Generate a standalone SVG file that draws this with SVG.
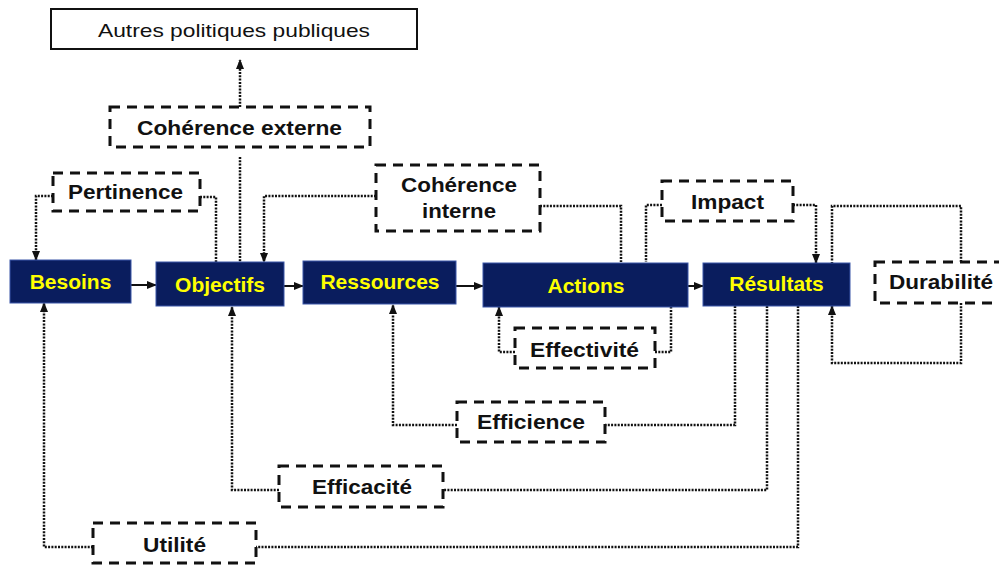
<svg xmlns="http://www.w3.org/2000/svg" width="999" height="565" viewBox="0 0 999 565">
<style>
.blue{fill:#0a1d5e;stroke:#3a57a8;stroke-width:1}
.bl{font-family:"Liberation Sans",Arial,sans-serif;font-weight:bold;font-size:21px;fill:#ffff00;text-anchor:middle}
.dbox{fill:#fff;stroke:#111;stroke-width:3;stroke-dasharray:10 7}
.dl{font-family:"Liberation Sans",Arial,sans-serif;font-weight:bold;font-size:21px;fill:#111}
.dot{fill:none;stroke:#111;stroke-width:2.5;stroke-dasharray:2 1.3}
.solid{fill:none;stroke:#111;stroke-width:2}
</style>
<defs>
<marker id="ah" markerUnits="userSpaceOnUse" markerWidth="10" markerHeight="10" viewBox="0 0 10 10" refX="9" refY="5" orient="auto">
<path d="M0,1 L10,5 L0,9 Z" fill="#111"/>
</marker>
</defs>
<rect width="999" height="565" fill="#fff"/>

<g id="connectors">
<path class="dot" d="M240,107 V60" marker-end="url(#ah)"/>
<path class="dot" d="M240,157 V262"/>
<path class="dot" d="M53,196 H36 V260" marker-end="url(#ah)"/>
<path class="dot" d="M200,197 H216 V262"/>
<path class="dot" d="M376,196 H264 V262" marker-end="url(#ah)"/>
<path class="dot" d="M540,206 H621 V262"/>
<path class="dot" d="M662,205 H646 V262"/>
<path class="dot" d="M793,205 H816 V263" marker-end="url(#ah)"/>
<path class="dot" d="M961,262 V206 H832 V263"/>
<path class="dot" d="M961,303 V363 H832 V306" marker-end="url(#ah)"/>
<path class="dot" d="M515,352 H499 V307" marker-end="url(#ah)"/>
<path class="dot" d="M655,352 H671 V307"/>
<path class="dot" d="M735,306 V425 H605"/>
<path class="dot" d="M457,425 H393 V305" marker-end="url(#ah)"/>
<path class="dot" d="M767,306 V490 H443"/>
<path class="dot" d="M279,490 H232 V307" marker-end="url(#ah)"/>
<path class="dot" d="M798,306 V547 H256"/>
<path class="dot" d="M93,547 H44 V303" marker-end="url(#ah)"/>
<path class="solid" d="M131,285 H156" marker-end="url(#ah)"/>
<path class="solid" d="M284,286 H303" marker-end="url(#ah)"/>
<path class="solid" d="M456,286 H483" marker-end="url(#ah)"/>
<path class="solid" d="M688,286 H703" marker-end="url(#ah)"/>
</g>

<g id="autres">
<rect x="51" y="9" width="366" height="40" fill="#fff" stroke="#111" stroke-width="2"/>
<text x="98" y="37" font-family="'Liberation Sans',Arial,sans-serif" font-size="19" fill="#111" textLength="272" lengthAdjust="spacingAndGlyphs">Autres politiques publiques</text>
</g>

<g id="coherence-externe">
<rect class="dbox" x="110" y="107" width="260" height="40"/>
<text class="dl" x="137" y="135" textLength="205" lengthAdjust="spacingAndGlyphs">Cohérence externe</text>
</g>

<g id="pertinence">
<rect class="dbox" x="53" y="173" width="147" height="38"/>
<text class="dl" x="68" y="199" textLength="115" lengthAdjust="spacingAndGlyphs">Pertinence</text>
</g>

<g id="coherence-interne">
<rect class="dbox" x="376" y="165" width="164" height="66"/>
<text class="dl" x="401" y="192" textLength="116" lengthAdjust="spacingAndGlyphs">Cohérence</text>
<text class="dl" x="422" y="218" textLength="74" lengthAdjust="spacingAndGlyphs">interne</text>
</g>

<g id="impact">
<rect class="dbox" x="662" y="181" width="131" height="40"/>
<text class="dl" x="691" y="209" textLength="73" lengthAdjust="spacingAndGlyphs">Impact</text>
</g>

<g id="besoins">
<rect class="blue" x="10" y="260" width="121" height="43"/>
<text class="bl" x="70.5" y="289">Besoins</text>
</g>
<g id="objectifs">
<rect class="blue" x="156" y="262" width="128" height="44"/>
<text class="bl" x="220" y="292">Objectifs</text>
</g>
<g id="ressources">
<rect class="blue" x="303" y="261" width="153" height="43"/>
<text class="bl" x="380" y="289">Ressources</text>
</g>
<g id="actions">
<rect class="blue" x="483" y="263" width="205" height="44"/>
<text class="bl" x="586" y="293">Actions</text>
</g>
<g id="resultats">
<rect class="blue" x="703" y="263" width="147" height="43"/>
<text class="bl" x="776.5" y="291">Résultats</text>
</g>

<g id="durabilite">
<rect class="dbox" x="875" y="262" width="140" height="41"/>
<text class="dl" x="889" y="289" textLength="104" lengthAdjust="spacingAndGlyphs">Durabilité</text>
</g>

<g id="effectivite">
<rect class="dbox" x="515" y="328" width="140" height="40"/>
<text class="dl" x="530" y="357" textLength="109" lengthAdjust="spacingAndGlyphs">Effectivité</text>
</g>

<g id="efficience">
<rect class="dbox" x="457" y="402" width="148" height="40"/>
<text class="dl" x="477" y="429" textLength="108" lengthAdjust="spacingAndGlyphs">Efficience</text>
</g>

<g id="efficacite">
<rect class="dbox" x="279" y="466" width="164" height="41"/>
<text class="dl" x="312" y="494" textLength="100" lengthAdjust="spacingAndGlyphs">Efficacité</text>
</g>

<g id="utilite">
<rect class="dbox" x="93" y="523" width="163" height="40"/>
<text class="dl" x="143" y="552" textLength="63" lengthAdjust="spacingAndGlyphs">Utilité</text>
</g>
</svg>
